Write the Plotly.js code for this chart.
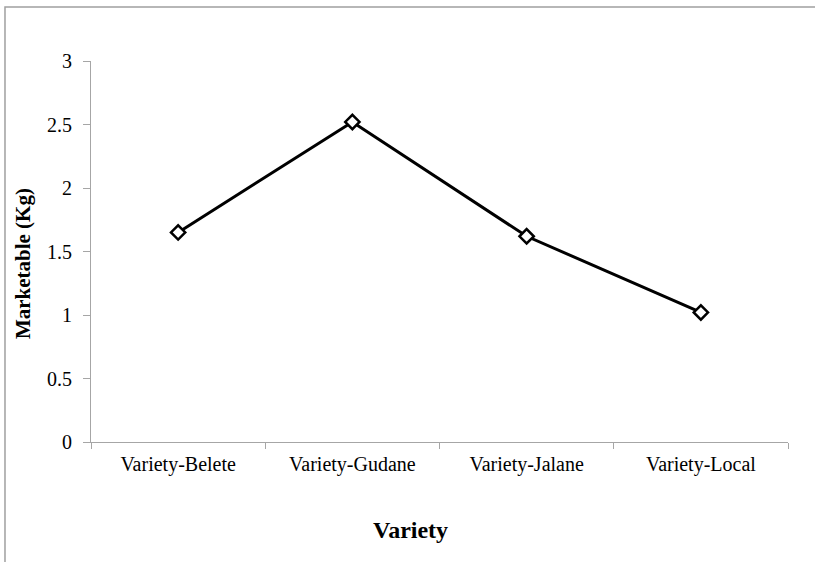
<!DOCTYPE html>
<html>
<head>
<meta charset="utf-8">
<script src="https://cdn.plot.ly/plotly-3.0.1.min.js"></script>
<style>
  html, body { margin: 0; padding: 0; background: #fff; }
  #chart { width: 815px; height: 562px; }
</style>
</head>
<body>
<div id="chart"></div>
<script>
// Marketable yield per variety
const varieties = ["Variety-Belete", "Variety-Gudane", "Variety-Jalane", "Variety-Local"];
const marketableKg = [1.65, 2.52, 1.62, 1.02];
const yTickValues = [0, 0.5, 1, 1.5, 2, 2.5, 3];
const yTickLabels = ["0", "0.5", "1", "1.5", "2", "2.5", "3"];
const xTitle = "Variety";
const yTitle = "Marketable (Kg)";

const serif = "'Liberation Serif', 'Times New Roman', serif";
const axisGray = "#a6a6a6";

const trace = {
  type: "scatter",
  mode: "lines+markers",
  x: varieties,
  y: marketableKg,
  line: { color: "#000", width: 3 },
  marker: {
    symbol: "diamond",
    size: 11,
    color: "#fff",
    line: { color: "#000", width: 2.5 }
  },
  cliponaxis: false,
  hoverinfo: "x+y"
};

const layout = {
  width: 815,
  height: 562,
  margin: { l: 91, r: 27, t: 61, b: 120 },
  paper_bgcolor: "#fff",
  plot_bgcolor: "#fff",
  showlegend: false,
  font: { family: serif, color: "#000", size: 20 },
  xaxis: {
    type: "category",
    range: [-0.5, 3.5],
    showgrid: false,
    zeroline: false,
    showline: true,
    linecolor: axisGray,
    linewidth: 1,
    ticks: "outside",
    tickson: "boundaries",
    ticklen: 6,
    tickcolor: axisGray,
    ticklabelstandoff: 4,
    tickfont: { family: serif, size: 20, color: "#000" },
    automargin: false
  },
  yaxis: {
    range: [0, 3],
    tickvals: yTickValues,
    ticktext: yTickLabels,
    showgrid: false,
    zeroline: false,
    showline: true,
    linecolor: axisGray,
    linewidth: 1,
    ticks: "outside",
    ticklen: 7,
    tickcolor: axisGray,
    ticklabelstandoff: 7,
    tickfont: { family: serif, size: 20, color: "#000" },
    automargin: false
  },
  annotations: [
    {
      text: "<b>" + xTitle + "</b>",
      xref: "paper", yref: "paper",
      x: 0.459, y: -0.23,
      xanchor: "center", yanchor: "middle",
      showarrow: false,
      font: { family: serif, size: 24, color: "#000" }
    },
    {
      text: "<b>" + yTitle + "</b>",
      xref: "paper", yref: "paper",
      x: -0.0975, y: 0.467,
      xanchor: "center", yanchor: "middle",
      textangle: -90,
      showarrow: false,
      font: { family: serif, size: 21, color: "#000" }
    }
  ],
  shapes: [
    {
      type: "rect",
      xref: "paper",
      yref: "paper",
      x0: -0.1234,
      x1: 1.2,
      y0: -0.5,
      y1: 1.1417,
      line: { color: "#a0a0a0", width: 1.5 },
      fillcolor: "rgba(0,0,0,0)",
      layer: "below"
    }
  ]
};

Plotly.newPlot("chart", [trace], layout, { displayModeBar: false, staticPlot: true });
</script>
</body>
</html>
